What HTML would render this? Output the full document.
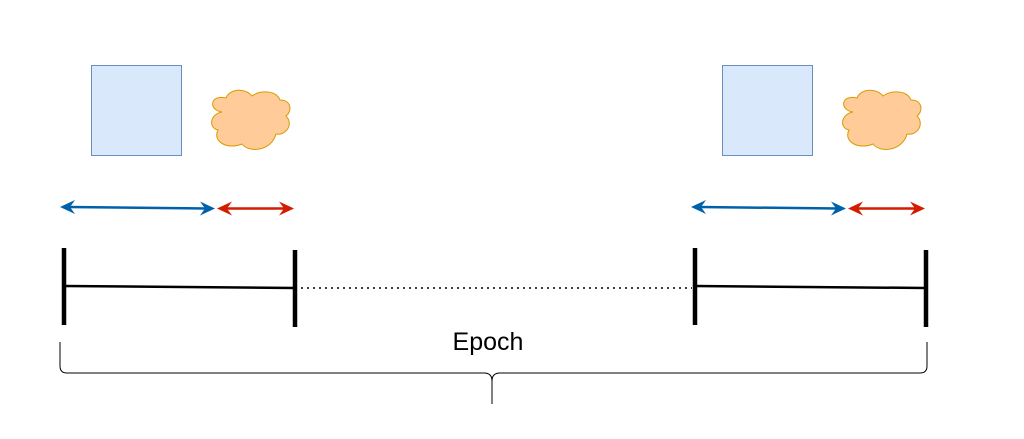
<!DOCTYPE html>
<html><head><style>body{margin:0;background:#fff}svg{display:block}</style></head><body>
<svg width="1024" height="439" viewBox="0 0 1024 439" xmlns="http://www.w3.org/2000/svg">
<defs>
<g id="grp">
<rect x="91.5" y="65.5" width="90" height="90" fill="#dae8fc" stroke="#6c8ebf" stroke-width="1"/>
<path d="M222 112 C208 110 210 94 226 98 C230 88 246 88 252 96 C260 90 276 90 280 100 C292 100 292 112 286 116 C294 124 286 136 276 134 C272 150 250 154 242 144 C228 150 212 142 218 130 C208 128 210 114 222 112 Z" fill="#ffcc99" stroke="#d79b00" stroke-width="1"/>
<line x1="68" y1="207" x2="207" y2="208.5" stroke="#0061ab" stroke-width="2.5"/>
<path d="M60 207 L75 200 L70 207 L75 214 Z" fill="#0061ab"/>
<path d="M215 208.5 L200 201.5 L205 208.5 L200 215.5 Z" fill="#0061ab"/>
<line x1="225" y1="208.5" x2="286" y2="208.5" stroke="#d41c00" stroke-width="2.5"/>
<path d="M217 208.5 L232 201.5 L227 208.5 L232 215.5 Z" fill="#d41c00"/>
<path d="M294 208.5 L279 201.5 L284 208.5 L279 215.5 Z" fill="#d41c00"/>
<line x1="64" y1="248" x2="64" y2="325" stroke="#000" stroke-width="4.5"/>
<line x1="295" y1="250" x2="295" y2="327" stroke="#000" stroke-width="4.5"/>
<line x1="64" y1="286" x2="295" y2="288" stroke="#000" stroke-width="2.5"/>
</g>
</defs>
<use href="#grp"/>
<use href="#grp" transform="translate(631,0)"/>
<line x1="301" y1="288" x2="692" y2="288" stroke="#000" stroke-width="1.5" stroke-dasharray="2,4"/>
<text x="488" y="350" font-family="Liberation Sans, sans-serif" font-size="25" text-anchor="middle" fill="#000">Epoch</text>
<path d="M60 342 L60 366 Q60 373 67 373 L484 373 Q492 373 492 381 L492 404 M492 381 Q492 373 500 373 L920 373 Q927 373 927 366 L927 342" fill="none" stroke="#000" stroke-width="1"/>
</svg>
</body></html>
